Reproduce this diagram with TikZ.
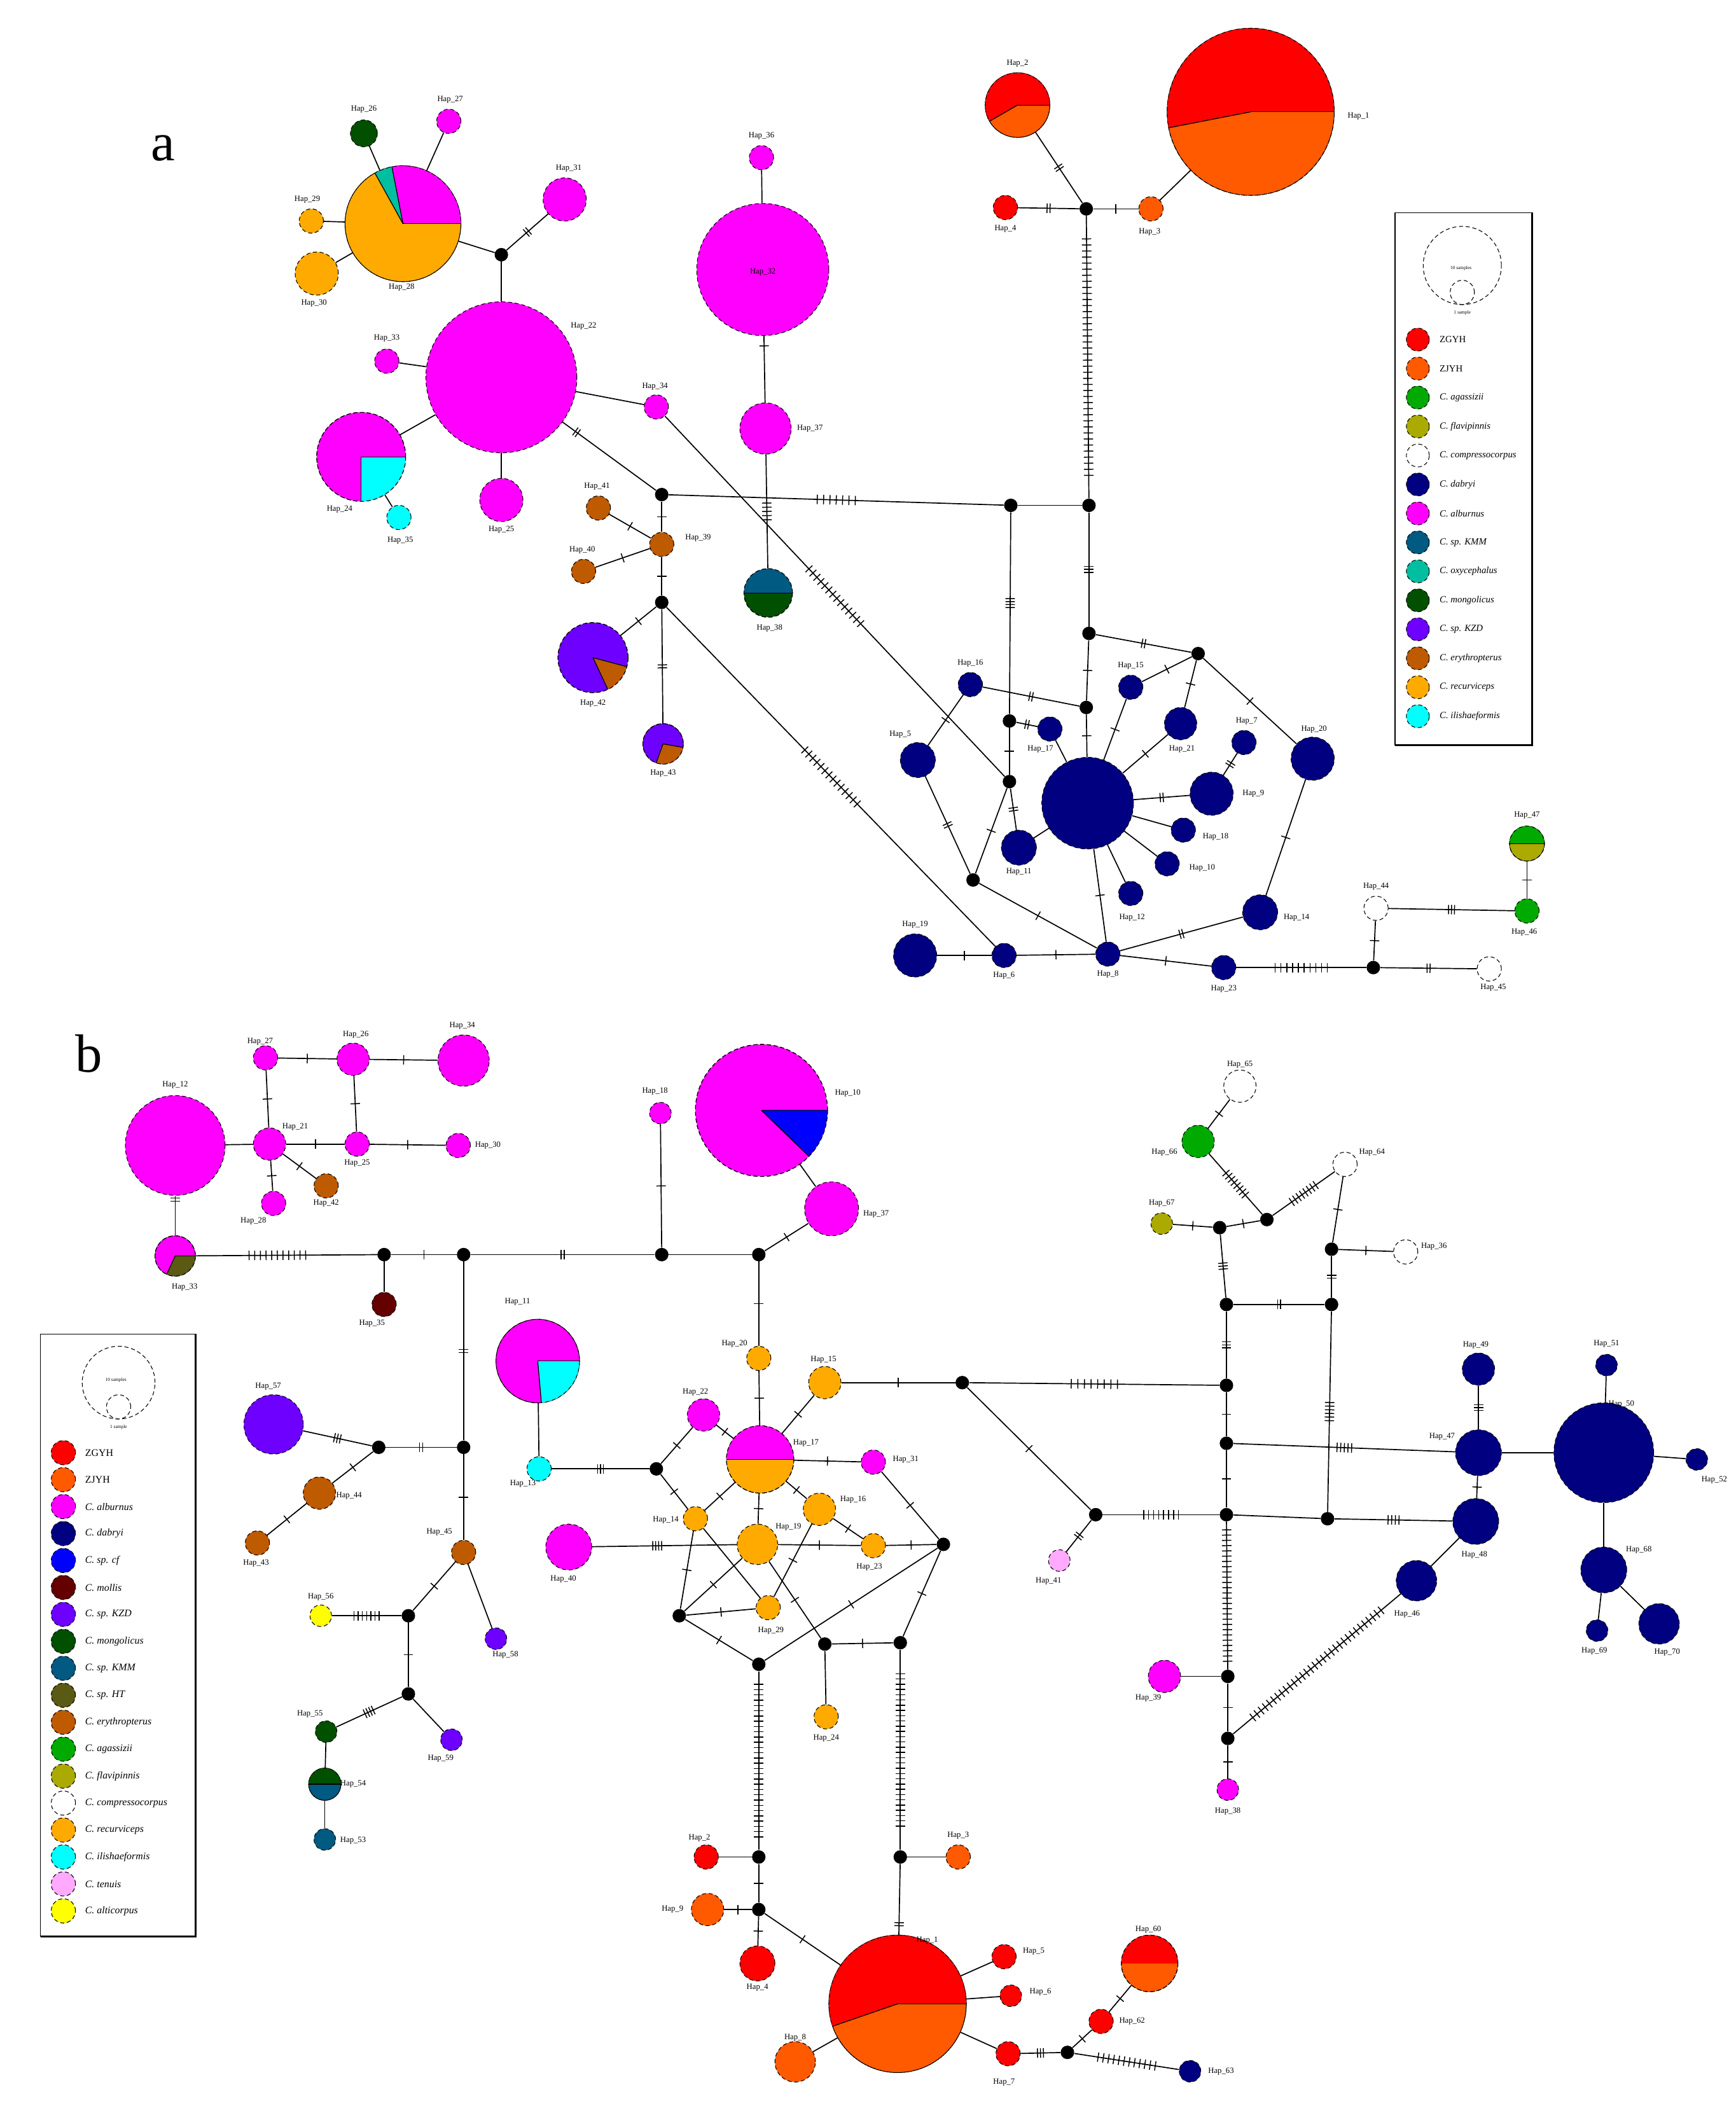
\documentclass[tikz,border=0pt]{standalone}
\usepackage{fontspec}
\setmainfont{Liberation Serif}
\definecolor{cRed}{RGB}{255,0,0}
\definecolor{cOrR}{RGB}{255,90,0}
\definecolor{cGrn}{RGB}{0,170,0}
\definecolor{cOli}{RGB}{170,170,0}
\definecolor{cNav}{RGB}{0,0,128}
\definecolor{cMag}{RGB}{255,0,255}
\definecolor{cTeB}{RGB}{0,90,130}
\definecolor{cTea}{RGB}{0,190,160}
\definecolor{cDGr}{RGB}{0,80,0}
\definecolor{cPur}{RGB}{110,0,255}
\definecolor{cBrn}{RGB}{190,90,0}
\definecolor{cOra}{RGB}{255,170,0}
\definecolor{cCya}{RGB}{0,255,255}
\definecolor{cBlu}{RGB}{0,0,255}
\definecolor{cDRd}{RGB}{100,0,0}
\definecolor{cDOl}{RGB}{90,90,20}
\definecolor{cLPk}{RGB}{255,170,255}
\definecolor{cYel}{RGB}{255,255,0}
\newcommand\tk[2][1.5pt]{\foreach\ti in {1,...,#2}{\ifnum\ti>1 \kern#1\fi\rule[-3.5pt]{0.7pt}{7pt}}}
\newcommand\psl[5]{\fill[#5] (#1.center) -- +(#3:#2) arc[start angle=#3,end angle=#4,radius=#2] -- cycle;}
\newcommand\pbd[2]{\draw[densely dashed,line width=0.5pt] (#1.center) circle[radius=#2];}
\newcommand\prad[3]{\draw[line width=0.6pt] (#1.center) -- +(#3:#2);}
\newcount\lbc
\newcommand\lb[3]{\global\advance\lbc by 1\relax\node[lab] (lab\the\lbc) at (#1,#2) {Hap\_#3};}
\pgfdeclarelayer{bg}\pgfsetlayers{bg,main}
\begin{document}
\begin{tikzpicture}[x=1pt,y=-1pt,
 hap/.style={circle,draw=black,densely dashed,line width=0.5pt,inner sep=0pt,minimum size=#1pt},
 med/.style={circle,fill=black,inner sep=0pt,minimum size=10pt},
 lab/.style={font=\fontsize{6}{7}\selectfont,inner sep=0pt},
 legt/.style={font=\fontsize{7}{8}\selectfont,inner sep=0pt,anchor=west},
 legb/.style={font=\fontsize{7.5}{8}\selectfont,inner sep=0pt,anchor=west},
 mk/.style={sloped,inner sep=0pt,outer sep=0pt,pos=0.5},
 ln/.style={line width=0.8pt}]
\useasboundingbox (0,0) rectangle (1288,1568);
\node[font=\fontsize{40}{40}\selectfont,inner sep=0pt] (pa) at (121,110) {a};
\node[font=\fontsize{40}{40}\selectfont,inner sep=0pt] (pb) at (66,782) {b};
% ================= PANEL A =================
\node[hap=124,fill=cOrR] (a1) at (928,83) {};
\node[hap=48,fill=cOrR] (a2) at (755,78) {};
\node[hap=18,fill=cRed] (a3) at (746,154) {};
\node[hap=18,fill=cOrR] (a4) at (854,155) {};
\node[med] (aj1) at (806,155) {};
\node[med] (aj2) at (808,375) {};
\node[med] (aj3) at (750,375) {};
\node[med] (aj4) at (491,367) {};
\node[med] (aj5) at (808,470) {};
\node[med] (aj6) at (749,580) {};
\node[med] (aj7) at (889,485) {};
\node[med] (aj8) at (806,525) {};
\node[med] (aj9) at (749,535) {};
\node[med] (aj10) at (491,447) {};
\node[med] (aj11) at (372,189) {};
\node[med] (aj12) at (722,653) {};
\node[med] (aj13) at (1019,718) {};
\node[hap=68,fill=cNav] (n0) at (807,596) {};
\node[hap=18,fill=cNav] (n24) at (720,508) {};
\node[hap=18,fill=cNav] (n13) at (839,510) {};
\node[hap=18,fill=cNav] (n17) at (779,541) {};
\node[hap=26,fill=cNav] (n5) at (681,564) {};
\node[hap=24,fill=cNav] (n21) at (876,537) {};
\node[hap=18,fill=cNav] (n7) at (923,551) {};
\node[hap=32,fill=cNav] (n26) at (974,563) {};
\node[hap=32,fill=cNav] (n9) at (899,589) {};
\node[hap=18,fill=cNav] (n15) at (878,616) {};
\node[hap=18,fill=cNav] (n10) at (866,641) {};
\node[hap=18,fill=cNav] (n12) at (839,663) {};
\node[hap=26,fill=cNav] (n11) at (756,629) {};
\node[hap=26,fill=cNav] (n14) at (935,677) {};
\node[hap=32,fill=cNav] (n19) at (679,709) {};
\node[hap=18,fill=cNav] (n16) at (745,709) {};
\node[hap=18,fill=cNav] (n1) at (822,708) {};
\node[hap=18,fill=cNav] (n8) at (908,718) {};
\node[hap=18,fill=white] (w1) at (1021,674) {};
\node[hap=18,fill=white] (w2) at (1105,719) {};
\node[hap=18,fill=cGrn] (g1) at (1133,676) {};
\node[hap=26,fill=cOli] (gp) at (1133,626) {};
\node[hap=112,fill=cMag] (ap22) at (372,280) {};
\node[hap=86,fill=cOra] (ap25) at (299,166) {};
\node[hap=20,fill=cDGr] (adg) at (270,99) {};
\node[hap=18,fill=cMag] (ak27) at (333,90) {};
\node[hap=18,fill=cOra] (ao31) at (231,164) {};
\node[hap=32,fill=cOra] (ao30) at (235,203) {};
\node[hap=32,fill=cMag] (ak21) at (419,148) {};
\node[hap=18,fill=cMag] (ak18) at (287,268) {};
\node[hap=66,fill=cMag] (apc) at (268,339) {};
\node[hap=18,fill=cCya] (acy) at (296,384) {};
\node[hap=32,fill=cMag] (ak23) at (372,371) {};
\node[hap=18,fill=cMag] (ak29) at (487,302) {};
\node[hap=18,fill=cMag] (ak34) at (565,117) {};
\node[hap=98,fill=cMag] (ak32) at (566,200) {};
\node[hap=38,fill=cMag] (ak33) at (568,318) {};
\node[hap=36,fill=cDGr] (atg) at (570,440) {};
\node[hap=18,fill=cBrn] (abr37) at (491,404) {};
\node[hap=18,fill=cBrn] (abr41) at (444,377) {};
\node[hap=18,fill=cBrn] (abr39) at (433,424) {};
\node[hap=52,fill=cPur] (app38) at (440,488) {};
\node[hap=30,fill=cPur] (app36) at (492,552) {};
% pies A
\psl{a1}{62}{169}{360}{cRed}\prad{a1}{62}{169}\prad{a1}{62}{0}\pbd{a1}{62}
\psl{a2}{24}{150}{360}{cRed}\prad{a2}{24}{150}\prad{a2}{24}{0}\pbd{a2}{24}
\psl{ap25}{43}{259}{360}{cMag}\psl{ap25}{43}{241}{259}{cTea}\prad{ap25}{43}{241}\prad{ap25}{43}{259}\prad{ap25}{43}{0}\pbd{ap25}{43}
\psl{apc}{33}{0}{90}{cCya}\prad{apc}{33}{0}\prad{apc}{33}{90}\pbd{apc}{33}
\psl{atg}{18}{180}{360}{cTeB}\prad{atg}{18}{0}\prad{atg}{18}{180}\pbd{atg}{18}
\psl{app38}{26}{15}{65}{cBrn}\prad{app38}{26}{15}\prad{app38}{26}{65}\pbd{app38}{26}
\psl{app36}{15}{10}{110}{cBrn}\prad{app36}{15}{10}\prad{app36}{15}{110}\pbd{app36}{15}
\psl{gp}{13}{180}{360}{cGrn}\prad{gp}{13}{0}\prad{gp}{13}{180}\pbd{gp}{13}
% labels A
\lb{1008}{86}{1}\lb{755}{47}{2}\lb{746}{170}{4}\lb{853}{172}{3}
\lb{270}{81}{26}\lb{334}{74}{27}\lb{422}{125}{31}\lb{228}{148}{29}\lb{233}{225}{30}
\lb{298}{213}{28}\lb{433}{242}{22}\lb{287}{251}{33}\lb{486}{287}{34}\lb{252}{378}{24}
\lb{297}{401}{35}\lb{372}{393}{25}\lb{565}{101}{36}\lb{566}{202}{32}\lb{601}{318}{37}
\lb{571}{466}{38}\lb{443}{361}{41}\lb{518}{399}{39}\lb{432}{408}{40}\lb{440}{522}{42}
\lb{492}{574}{43}
\lb{720}{492}{16}\lb{839}{494}{15}\lb{772}{556}{17}\lb{668}{545}{5}\lb{877}{556}{21}
\lb{925}{535}{7}\lb{975}{541}{20}\lb{930}{589}{9}\lb{902}{621}{18}\lb{892}{644}{10}
\lb{840}{681}{12}\lb{756}{647}{11}\lb{962}{681}{14}\lb{679}{686}{19}\lb{745}{724}{6}
\lb{822}{723}{8}\lb{908}{734}{23}\lb{1021}{658}{44}\lb{1108}{733}{45}\lb{1131}{692}{46}
\lb{1133}{605}{47}
% legend A
\draw[line width=0.7pt] (1035,158) rectangle (1137,553);
\draw[line width=1.4pt] (1137,158) -- (1137,553) -- (1035,553);
\node[hap=58] (lga) at (1085,197) {};
\node[hap=18] (lgb) at (1085,217) {};
\node[font=\fontsize{3.5}{4}\selectfont,inner sep=0pt] (lgt1) at (1084,199) {10 samples};
\node[font=\fontsize{3.5}{4}\selectfont,inner sep=0pt] (lgt2) at (1085,232) {1 sample};
\foreach \c/\t [count=\i] in {cRed/ZGYH,cOrR/ZJYH,cGrn/\textit{C. agassizii},cOli/\textit{C. flavipinnis},white/\textit{C. compressocorpus},cNav/\textit{C. dabryi},cMag/\textit{C. alburnus},cTeB/\textit{C. sp. KMM},cTea/\textit{C. oxycephalus},cDGr/\textit{C. mongolicus},cPur/\textit{C. sp. KZD},cBrn/\textit{C. erythropterus},cOra/\textit{C. recurviceps},cCya/\textit{C. ilishaeformis}}{
 \node[hap=17,fill=\c] (la\i) at (1052,{252+21.5*(\i-1)}) {};
 \node[legt] (lat\i) at (1068,{252+21.5*(\i-1)}) {\t};
}
% ================= PANEL B =================
\node[hap=74,fill=cMag] (b1) at (130,850) {};
\node[hap=18,fill=cMag] (b2) at (197,785) {};
\node[hap=24,fill=cMag] (b3) at (262,786) {};
\node[hap=38,fill=cMag] (b4) at (344,787) {};
\node[hap=24,fill=cMag] (b5) at (200,849) {};
\node[hap=18,fill=cMag] (b6) at (265,849) {};
\node[hap=18,fill=cMag] (b7) at (340,850) {};
\node[hap=18,fill=cMag] (b8) at (203,893) {};
\node[hap=18,fill=cBrn] (b9) at (242,880) {};
\node[hap=30,fill=cMag] (b10) at (130,932) {};
\node[med] (bj1) at (285,931) {};
\node[hap=18,fill=cDRd] (bdr) at (285,968) {};
\node[med] (bj2) at (344,931) {};
\node[med] (bj3) at (491,931) {};
\node[hap=16,fill=cMag] (b11) at (490,826) {};
\node[med] (bj5) at (563,931) {};
\node[hap=40,fill=cMag] (b12) at (617,897) {};
\node[hap=98,fill=cMag] (b13) at (565,824) {};
\node[hap=18,fill=cOra] (bo1) at (563,1008) {};
\node[hap=50,fill=cOra] (bo2) at (564,1083) {};
\node[hap=24,fill=cOra] (bo3) at (612,1026) {};
\node[hap=24,fill=cMag] (bpk1) at (522,1050) {};
\node[hap=18,fill=cMag] (bpk2) at (648,1085) {};
\node[med] (bj7) at (487,1090) {};
\node[hap=18,fill=cOra] (bo4) at (516,1127) {};
\node[hap=24,fill=cOra] (bo5) at (608,1120) {};
\node[hap=30,fill=cOra] (bo6) at (562,1146) {};
\node[hap=18,fill=cOra] (bo7) at (648,1147) {};
\node[med] (bj8) at (700,1146) {};
\node[hap=18,fill=cOra] (bo8) at (570,1193) {};
\node[med] (bj9) at (504,1199) {};
\node[med] (bj10) at (612,1220) {};
\node[med] (bj11) at (668,1219) {};
\node[med] (bj12) at (563,1235) {};
\node[hap=18,fill=cOra] (bo9) at (613,1274) {};
\node[hap=18,fill=cCya] (bcy) at (400,1090) {};
\node[hap=62,fill=cMag] (bpc) at (399,1010) {};
\node[hap=34,fill=cMag] (bpk3) at (422,1148) {};
\node[med] (bj4) at (344,1074) {};
\node[med] (bj20) at (281,1074) {};
\node[hap=44,fill=cPur] (bpu1) at (203,1057) {};
\node[hap=24,fill=cBrn] (bbr1) at (237,1108) {};
\node[hap=18,fill=cBrn] (bbr2) at (191,1145) {};
\node[hap=18,fill=cBrn] (bbr3) at (344,1152) {};
\node[hap=16,fill=cPur] (bpu2) at (368,1216) {};
\node[med] (bj21) at (303,1199) {};
\node[hap=16,fill=cYel] (byel) at (238,1199) {};
\node[med] (bj22) at (303,1257) {};
\node[hap=16,fill=cPur] (bpu3) at (335,1291) {};
\node[hap=16,fill=cDGr] (bdg) at (242,1285) {};
\node[hap=24,fill=cTeB] (bdgp) at (241,1324) {};
\node[hap=16,fill=cTeB] (btb) at (241,1365) {};
\node[med] (bj13) at (563,1378) {};
\node[med] (bj14) at (668,1378) {};
\node[hap=18,fill=cRed] (br1) at (524,1378) {};
\node[med] (bj15) at (563,1417) {};
\node[hap=24,fill=cOrR] (bor1) at (525,1417) {};
\node[hap=26,fill=cRed] (br2) at (562,1457) {};
\node[hap=102,fill=cOrR] (bbig) at (666,1487) {};
\node[hap=18,fill=cOrR] (bor2) at (711,1378) {};
\node[hap=18,fill=cRed] (br3) at (745,1452) {};
\node[hap=16,fill=cRed] (br4) at (750,1481) {};
\node[hap=18,fill=cRed] (br5) at (748,1524) {};
\node[hap=30,fill=cOrR] (bor3) at (590,1530) {};
\node[med] (bj16) at (792,1523) {};
\node[hap=18,fill=cRed] (br6) at (817,1500) {};
\node[hap=42,fill=cOrR] (bpie2) at (853,1457) {};
\node[hap=16,fill=cNav] (bnv1) at (883,1537) {};
\node[med] (bj6) at (714,1026) {};
\node[med] (bj17) at (910,1028) {};
\node[med] (bj18) at (813,1124) {};
\node[hap=16,fill=cLPk] (blp) at (786,1158) {};
\node[med] (bj19) at (910,1124) {};
\node[med] (bj23) at (905,911) {};
\node[med] (bj24) at (910,968) {};
\node[med] (bj25) at (910,1071) {};
\node[med] (bj26) at (911,1244) {};
\node[med] (bj27) at (911,1290) {};
\node[hap=24,fill=cMag] (bpk4) at (864,1244) {};
\node[hap=16,fill=cMag] (bpk5) at (911,1328) {};
\node[hap=30,fill=cNav] (bnv2) at (1051,1173) {};
\node[med] (bj28) at (988,927) {};
\node[med] (bj29) at (988,968) {};
\node[med] (bj30) at (985,1127) {};
\node[hap=18,fill=white] (bw1) at (1043,929) {};
\node[hap=18,fill=white] (bw2) at (998,864) {};
\node[hap=24,fill=white] (bw3) at (920,806) {};
\node[hap=24,fill=cGrn] (bgr) at (889,847) {};
\node[hap=16,fill=cOli] (bol) at (862,908) {};
\node[med] (bj31) at (940,905) {};
\node[hap=34,fill=cNav] (bnv3) at (1095,1129) {};
\node[hap=34,fill=cNav] (bnv4) at (1097,1078) {};
\node[hap=24,fill=cNav] (bnv5) at (1097,1016) {};
\node[hap=74,fill=cNav] (bnv6) at (1190,1078) {};
\node[hap=16,fill=cNav] (bnv7) at (1192,1013) {};
\node[hap=16,fill=cNav] (bnv8) at (1259,1083) {};
\node[hap=34,fill=cNav] (bnv9) at (1190,1165) {};
\node[hap=16,fill=cNav] (bnv10) at (1185,1210) {};
\node[hap=30,fill=cNav] (bnv11) at (1231,1205) {};
% pies B
\psl{b10}{15}{0}{115}{cDOl}\prad{b10}{15}{0}\prad{b10}{15}{115}\pbd{b10}{15}
\psl{b13}{49}{0}{44}{cBlu}\prad{b13}{49}{0}\prad{b13}{49}{44}\pbd{b13}{49}
\psl{bpc}{31}{0}{85}{cCya}\prad{bpc}{31}{0}\prad{bpc}{31}{85}\pbd{bpc}{31}
\psl{bo2}{25}{180}{360}{cMag}\prad{bo2}{25}{0}\prad{bo2}{25}{180}\pbd{bo2}{25}
\psl{bbig}{51}{161}{360}{cRed}\prad{bbig}{51}{161}\prad{bbig}{51}{0}\pbd{bbig}{51}
\psl{bpie2}{21}{180}{360}{cRed}\pbd{bpie2}{21}
\psl{bdgp}{12}{180}{360}{cDGr}\prad{bdgp}{12}{0}\prad{bdgp}{12}{180}\pbd{bdgp}{12}
% labels B
\lb{130}{805}{12}\lb{193}{773}{27}\lb{264}{768}{26}\lb{343}{761}{34}\lb{219}{836}{21}
\lb{265}{863}{25}\lb{362}{850}{30}\lb{188}{906}{28}\lb{242}{893}{42}\lb{137}{955}{33}
\lb{276}{982}{35}\lb{486}{810}{18}\lb{629}{811}{10}\lb{650}{901}{37}\lb{545}{997}{20}
\lb{598}{1071}{17}\lb{611}{1009}{15}\lb{516}{1033}{22}\lb{672}{1083}{31}\lb{494}{1128}{14}
\lb{633}{1113}{16}\lb{585}{1133}{19}\lb{645}{1163}{23}\lb{572}{1210}{29}\lb{613}{1290}{24}
\lb{384}{966}{11}\lb{388}{1101}{13}\lb{418}{1172}{40}\lb{199}{1029}{57}\lb{259}{1110}{44}
\lb{190}{1160}{43}\lb{326}{1137}{45}\lb{375}{1228}{58}\lb{238}{1185}{56}\lb{327}{1305}{59}
\lb{230}{1272}{55}\lb{262}{1324}{54}\lb{262}{1366}{53}
\lb{519}{1364}{2}\lb{499}{1417}{9}\lb{562}{1475}{4}\lb{688}{1440}{1}\lb{711}{1362}{3}
\lb{767}{1448}{5}\lb{772}{1478}{6}\lb{745}{1545}{7}\lb{590}{1512}{8}\lb{840}{1500}{62}
\lb{852}{1432}{60}\lb{906}{1537}{63}
\lb{778}{1173}{41}\lb{852}{1260}{39}\lb{911}{1344}{38}\lb{1044}{1198}{46}\lb{1064}{925}{36}
\lb{1018}{855}{64}\lb{920}{790}{65}\lb{864}{855}{66}\lb{862}{893}{67}\lb{1094}{1154}{48}
\lb{1070}{1066}{47}\lb{1095}{998}{49}\lb{1203}{1042}{50}\lb{1192}{997}{51}\lb{1272}{1098}{52}
\lb{1216}{1150}{68}\lb{1183}{1225}{69}\lb{1237}{1226}{70}
% legend B
\draw[line width=0.7pt] (30,990) rectangle (145,1437);
\draw[line width=1.4pt] (145,990) -- (145,1437) -- (30,1437);
\node[hap=54] (lgc) at (88,1026) {};
\node[hap=18] (lgd) at (88,1044) {};
\node[font=\fontsize{3.5}{4}\selectfont,inner sep=0pt] (lgt3) at (86,1024) {10 samples};
\node[font=\fontsize{3.5}{4}\selectfont,inner sep=0pt] (lgt4) at (88,1059) {1 sample};
\foreach \c/\t [count=\i] in {cRed/ZGYH,cOrR/ZJYH,cMag/\textit{C. alburnus},cNav/\textit{C. dabryi},cBlu/\textit{C. sp. cf},cDRd/\textit{C. mollis},cPur/\textit{C. sp. KZD},cDGr/\textit{C. mongolicus},cTeB/\textit{C. sp. KMM},cDOl/\textit{C. sp. HT},cBrn/\textit{C. erythropterus},cGrn/\textit{C. agassizii},cOli/\textit{C. flavipinnis},white/\textit{C. compressocorpus},cOra/\textit{C. recurviceps},cCya/\textit{C. ilishaeformis},cLPk/\textit{C. tenuis},cYel/\textit{C. alticorpus}}{
 \node[hap=18,fill=\c] (lb\i) at (47,{1078+20*(\i-1)}) {};
 \node[legb] (lbt\i) at (63,{1078+20*(\i-1)}) {\t};
}
% ================= EDGES =================
\begin{pgfonlayer}{bg}
\fill[white] (0,0) rectangle (1288,1568);
% panel a
\draw[ln] (aj1) -- node[mk]{\tk{2}} (a3);
\draw[ln] (aj1) -- node[mk]{\tk{1}} (a4);
\draw[ln] (aj1) -- node[mk]{\tk{2}} (a2);
\draw[ln] (a4) -- (a1);
\draw[ln] (aj1) -- node[mk]{\tk[3.8pt]{40}} (aj2);
\draw[ln] (aj2) -- (aj3);
\draw[ln] (aj4) -- node[mk]{\tk[4pt]{7}} (aj3);
\draw[ln] (aj2) -- node[mk]{\tk{3}} (aj5);
\draw[ln] (aj3) -- node[mk,pos=0.45]{\tk{4}} (aj9);
\draw[ln] (aj9) -- node[mk]{\tk{1}} (aj6);
\draw[ln] (aj5) -- node[mk]{\tk{2}} (aj7);
\draw[ln] (aj5) -- node[mk]{\tk{1}} (aj8);
\draw[ln] (aj8) -- node[mk]{\tk{1}} (n0);
\draw[ln] (aj8) -- node[mk]{\tk{2}} (n24);
\draw[ln] (aj7) -- node[mk]{\tk{1}} (n13);
\draw[ln] (n13) -- node[mk]{\tk{1}} (n0);
\draw[ln] (aj7) -- node[mk]{\tk{1}} (n21);
\draw[ln] (n21) -- node[mk]{\tk{1}} (n0);
\draw[ln] (aj7) -- node[mk]{\tk{1}} (n26);
\draw[ln] (n26) -- node[mk]{\tk{1}} (n14);
\draw[ln] (n14) -- node[mk]{\tk{2}} (n1);
\draw[ln] (aj9) -- node[mk]{\tk{2}} (n17);
\draw[ln] (n17) -- (n0);
\draw[ln] (n7) -- node[mk]{\tk{2}} (n9);
\draw[ln] (n0) -- node[mk]{\tk{2}} (n9);
\draw[ln] (n0) -- (n15);
\draw[ln] (n0) -- (n10);
\draw[ln] (n0) -- (n12);
\draw[ln] (n0) -- (n11);
\draw[ln] (n0) -- node[mk]{\tk{1}} (n1);
\draw[ln] (n24) -- node[mk]{\tk{1}} (n5);
\draw[ln] (n5) -- node[mk]{\tk{2}} (aj12);
\draw[ln] (aj6) -- node[mk]{\tk{1}} (aj12);
\draw[ln] (aj6) -- node[mk]{\tk{2}} (n11);
\draw[ln] (aj12) -- node[mk]{\tk{1}} (n1);
\draw[ln] (n19) -- node[mk]{\tk{1}} (n16);
\draw[ln] (n16) -- node[mk]{\tk{1}} (n1);
\draw[ln] (n1) -- node[mk]{\tk{1}} (n8);
\draw[ln] (n8) -- node[mk]{\tk[3.6pt]{10}} (aj13);
\draw[ln] (aj13) -- node[mk]{\tk{2}} (w2);
\draw[ln] (aj13) -- node[mk]{\tk{1}} (w1);
\draw[ln] (w1) -- node[mk]{\tk{3}} (g1);
\draw[ln] (g1) -- node[mk]{\tk{1}} (gp);
\draw[ln] (aj10) -- node[mk]{\tk[3.6pt]{14}} (n16);
\draw[ln] (ak29) -- node[mk]{\tk[3.6pt]{14}} (aj6);
\draw[ln] (ap22) -- node[mk,pos=0.15]{\tk{2}} (aj4);
\draw[ln] (ap22) -- (aj11);
\draw[ln] (aj11) -- (ap25);
\draw[ln] (aj11) -- node[mk]{\tk{2}} (ak21);
\draw[ln] (ap25) -- (adg);
\draw[ln] (ap25) -- (ak27);
\draw[ln] (ap25) -- (ao31);
\draw[ln] (ap25) -- (ao30);
\draw[ln] (ap22) -- (ak18);
\draw[ln] (ap22) -- (apc);
\draw[ln] (apc) -- (acy);
\draw[ln] (ap22) -- (ak23);
\draw[ln] (ap22) -- (ak29);
\draw[ln] (ak34) -- (ak32);
\draw[ln] (ak32) -- node[mk,pos=0.15]{\tk{1}} (ak33);
\draw[ln] (ak33) -- node[mk]{\tk[2.4pt]{5}} (atg);
\draw[ln] (aj4) -- node[mk]{\tk{1}} (abr37);
\draw[ln] (abr41) -- node[mk]{\tk{1}} (abr37);
\draw[ln] (abr39) -- node[mk]{\tk{1}} (abr37);
\draw[ln] (abr37) -- node[mk]{\tk{1}} (aj10);
\draw[ln] (aj10) -- node[mk]{\tk{1}} (app38);
\draw[ln] (aj10) -- node[mk]{\tk{2}} (app36);
% panel b
\draw[ln] (b2) -- node[mk]{\tk{1}} (b3);
\draw[ln] (b3) -- node[mk]{\tk{1}} (b4);
\draw[ln] (b2) -- node[mk]{\tk{1}} (b5);
\draw[ln] (b3) -- node[mk]{\tk{1}} (b6);
\draw[ln] (b5) -- node[mk]{\tk{1}} (b6);
\draw[ln] (b6) -- node[mk]{\tk{1}} (b7);
\draw[ln] (b1) -- (b5);
\draw[ln] (b5) -- node[mk]{\tk{1}} (b8);
\draw[ln] (b5) -- node[mk]{\tk{1}} (b9);
\draw[ln] (b1) -- node[mk,pos=0.1]{\tk{2}} (b10);
\draw[ln] (b10) -- node[mk,pos=0.45]{\tk[3.5pt]{11}} (bj1);
\draw[ln] (bj1) -- (bdr);
\draw[ln] (bj1) -- node[mk]{\tk{1}} (bj2);
\draw[ln] (bj2) -- node[mk]{\tk{2}} (bj3);
\draw[ln] (bj3) -- node[mk]{\tk{1}} (b11);
\draw[ln] (bj3) -- (bj5);
\draw[ln] (bj5) -- node[mk]{\tk{1}} (b12);
\draw[ln] (b13) -- (b12);
\draw[ln] (bj5) -- node[mk]{\tk{1}} (bo1);
\draw[ln] (bj2) -- node[mk]{\tk{2}} (bj4);
\draw[ln] (bo1) -- node[mk]{\tk{1}} (bo2);
\draw[ln] (bo3) -- node[mk]{\tk{1}} (bo2);
\draw[ln] (bpk1) -- node[mk]{\tk{1}} (bo2);
\draw[ln] (bpk1) -- node[mk]{\tk{1}} (bj7);
\draw[ln] (bj7) -- node[mk]{\tk{1}} (bo4);
\draw[ln] (bo4) -- node[mk]{\tk{1}} (bo2);
\draw[ln] (bo2) -- node[mk]{\tk{1}} (bpk2);
\draw[ln] (bo2) -- node[mk]{\tk{1}} (bo5);
\draw[ln] (bo2) -- node[mk]{\tk{1}} (bo6);
\draw[ln] (bo5) -- node[mk]{\tk{1}} (bo7);
\draw[ln] (bpk2) -- node[mk]{\tk{1}} (bj8);
\draw[ln] (bo4) -- (bo8);
\draw[ln] (bo4) -- node[mk]{\tk{1}} (bj9);
\draw[ln] (bo6) -- node[mk]{\tk{1}} (bj9);
\draw[ln] (bo6) -- node[mk]{\tk{1}} (bj10);
\draw[ln] (bo5) -- node[mk]{\tk{1}} (bo8);
\draw[ln] (bj9) -- node[mk]{\tk{1}} (bo8);
\draw[ln] (bj9) -- node[mk]{\tk{1}} (bj12);
\draw[ln] (bj12) -- node[mk]{\tk{1}} (bj8);
\draw[ln] (bj8) -- node[mk]{\tk{1}} (bj11);
\draw[ln] (bj10) -- node[mk]{\tk{1}} (bj11);
\draw[ln] (bo6) -- node[mk]{\tk{1}} (bo7);
\draw[ln] (bo7) -- node[mk]{\tk{1}} (bj8);
\draw[ln] (bpk3) -- node[mk,pos=0.45]{\tk{4}} (bo6);
\draw[ln] (bpc) -- (bcy);
\draw[ln] (bcy) -- node[mk]{\tk{3}} (bj7);
\draw[ln] (bj4) -- node[mk]{\tk{2}} (bj20);
\draw[ln] (bj20) -- node[mk]{\tk{3}} (bpu1);
\draw[ln] (bj20) -- node[mk]{\tk{1}} (bbr1);
\draw[ln] (bbr1) -- node[mk]{\tk{1}} (bbr2);
\draw[ln] (bj4) -- node[mk]{\tk{1}} (bbr3);
\draw[ln] (bbr3) -- (bpu2);
\draw[ln] (bbr3) -- node[mk]{\tk{1}} (bj21);
\draw[ln] (bj21) -- node[mk]{\tk[2.4pt]{7}} (byel);
\draw[ln] (bj21) -- node[mk]{\tk{1}} (bj22);
\draw[ln] (bj22) -- (bpu3);
\draw[ln] (bj22) -- node[mk]{\tk{4}} (bdg);
\draw[ln] (bdg) -- (bdgp);
\draw[ln] (bdgp) -- (btb);
\draw[ln] (bj10) -- (bo9);
\draw[ln] (bj12) -- node[mk]{\tk[3.2pt]{30}} (bj13);
\draw[ln] (bj11) -- node[mk]{\tk[3.2pt]{30}} (bj14);
\draw[ln] (bj13) -- (br1);
\draw[ln] (bj13) -- node[mk]{\tk{1}} (bj15);
\draw[ln] (bj15) -- node[mk]{\tk{1}} (bor1);
\draw[ln] (bj15) -- node[mk]{\tk{1}} (br2);
\draw[ln] (bj15) -- node[mk]{\tk{1}} (bbig);
\draw[ln] (bj14) -- (bor2);
\draw[ln] (bj14) -- node[mk,pos=0.85]{\tk{2}} (bbig);
\draw[ln] (bbig) -- (br3);
\draw[ln] (bbig) -- (br4);
\draw[ln] (bbig) -- (br5);
\draw[ln] (bbig) -- (bor3);
\draw[ln] (br5) -- node[mk]{\tk{3}} (bj16);
\draw[ln] (bj16) -- node[mk]{\tk{1}} (br6);
\draw[ln] (br6) -- node[mk]{\tk{1}} (bpie2);
\draw[ln] (bj16) -- node[mk]{\tk[3.2pt]{12}} (bnv1);
\draw[ln] (bo3) -- node[mk]{\tk{1}} (bj6);
\draw[ln] (bj6) -- node[mk]{\tk[4.2pt]{8}} (bj17);
\draw[ln] (bj6) -- node[mk]{\tk{1}} (bj18);
\draw[ln] (bj18) -- node[mk]{\tk{2}} (blp);
\draw[ln] (bj18) -- node[mk]{\tk[3pt]{8}} (bj19);
\draw[ln] (bj23) -- node[mk]{\tk{1}} (bol);
\draw[ln] (bj23) -- node[mk]{\tk{1}} (bj31);
\draw[ln] (bj31) -- node[mk]{\tk[2.4pt]{8}} (bgr);
\draw[ln] (bgr) -- node[mk]{\tk{1}} (bw3);
\draw[ln] (bj31) -- node[mk]{\tk[2.4pt]{8}} (bw2);
\draw[ln] (bw2) -- node[mk]{\tk{1}} (bj28);
\draw[ln] (bj28) -- node[mk]{\tk{1}} (bw1);
\draw[ln] (bj28) -- node[mk]{\tk{2}} (bj29);
\draw[ln] (bj23) -- node[mk]{\tk{3}} (bj24);
\draw[ln] (bj24) -- node[mk]{\tk{2}} (bj29);
\draw[ln] (bj24) -- node[mk]{\tk{3}} (bj17);
\draw[ln] (bj29) -- node[mk]{\tk[2pt]{6}} (bj30);
\draw[ln] (bj17) -- node[mk]{\tk{1}} (bj25);
\draw[ln] (bj25) -- node[mk]{\tk{1}} (bj19);
\draw[ln] (bj25) -- node[mk]{\tk[2pt]{5}} (bnv4);
\draw[ln] (bj30) -- node[mk]{\tk[2pt]{4}} (bnv3);
\draw[ln] (bj19) -- (bj30);
\draw[ln] (bj19) -- node[mk]{\tk[3.2pt]{26}} (bj26);
\draw[ln] (bj26) -- (bpk4);
\draw[ln] (bj26) -- node[mk]{\tk{1}} (bj27);
\draw[ln] (bj27) -- node[mk]{\tk{1}} (bpk5);
\draw[ln] (bj27) -- node[mk]{\tk[3.3pt]{32}} (bnv2);
\draw[ln] (bnv2) -- (bnv3);
\draw[ln] (bnv4) -- node[mk]{\tk{3}} (bnv5);
\draw[ln] (bnv4) -- node[mk]{\tk{1}} (bnv3);
\draw[ln] (bnv4) -- (bnv6);
\draw[ln] (bnv6) -- (bnv7);
\draw[ln] (bnv6) -- (bnv8);
\draw[ln] (bnv6) -- (bnv9);
\draw[ln] (bnv9) -- (bnv10);
\draw[ln] (bnv9) -- (bnv11);
\end{pgfonlayer}
\end{tikzpicture}
\end{document}
